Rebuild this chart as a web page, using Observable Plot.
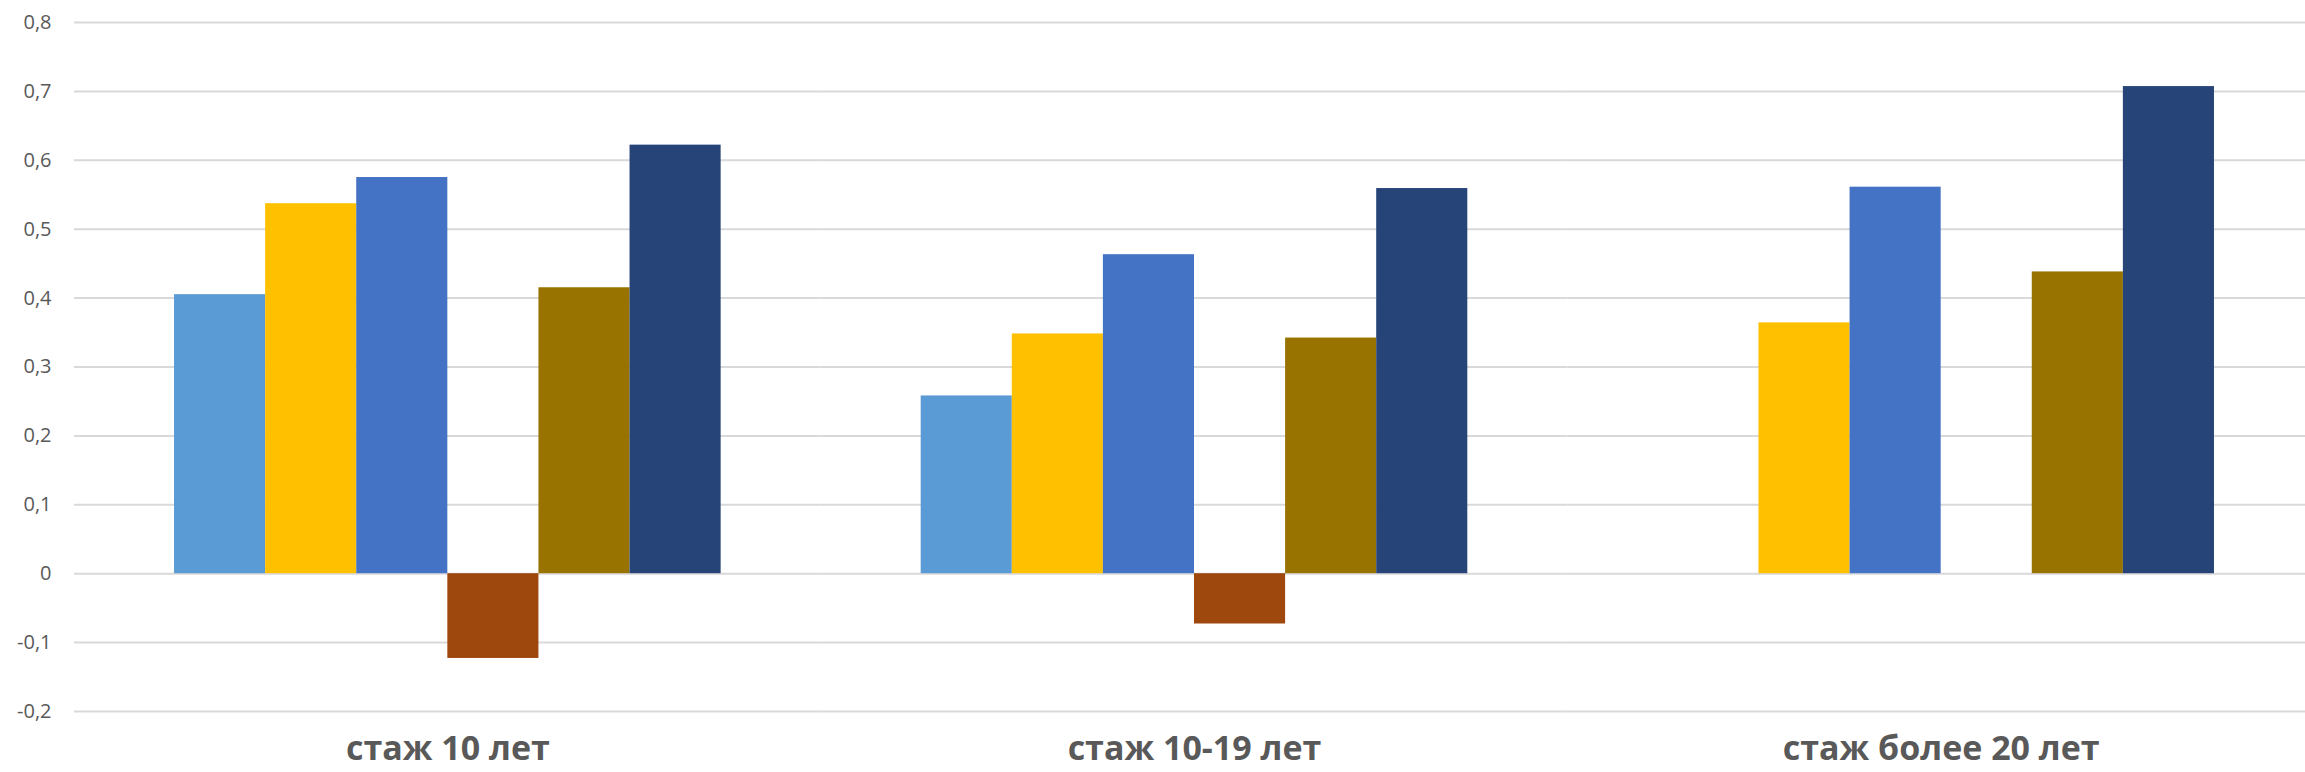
<!DOCTYPE html>
<html>
<head>
<meta charset="utf-8">
<script src="https://cdn.jsdelivr.net/npm/d3@7"></script>
<script src="https://cdn.jsdelivr.net/npm/@observablehq/plot@0.6"></script>
<style>
  html, body { margin: 0; padding: 0; background: #fff; }
  #chart svg { display: block; }
</style>
</head>
<body>
<div id="chart"></div>
<script>
const categories = ["стаж 10 лет", "стаж 10-19 лет", "стаж более 20 лет"];
const seriesNames = ["Ряд 1", "Ряд 2", "Ряд 3", "Ряд 4", "Ряд 5", "Ряд 6"];
const seriesColors = ["#5B9BD5", "#FFC000", "#4472C4", "#9E480E", "#997300", "#264478"];
const series1 = [0.405, 0.258, null];
const series2 = [0.537, 0.348, 0.364];
const series3 = [0.575, 0.463, 0.561];
const series4 = [-0.123, -0.073, null];
const series5 = [0.415, 0.342, 0.438];
const series6 = [0.622, 0.559, 0.707];
const yTicks = [-0.2, -0.1, 0, 0.1, 0.2, 0.3, 0.4, 0.5, 0.6, 0.7, 0.8];
const yTickLabels = ["-0,2", "-0,1", "0", "0,1", "0,2", "0,3", "0,4", "0,5", "0,6", "0,7", "0,8"];

const allSeries = [series1, series2, series3, series4, series5, series6];
const data = [];
categories.forEach((c, ci) => {
  allSeries.forEach((s, si) => {
    if (s[ci] != null) data.push({category: c, series: seriesNames[si], value: s[ci]});
  });
});

const chart = Plot.plot({
  width: 2305,
  height: 772,
  marginLeft: 74,
  marginRight: -9,
  marginTop: 22,
  marginBottom: 61,
  style: {fontFamily: "Open Sans", background: "#fff"},
  fx: {domain: categories, paddingInner: 0, paddingOuter: 0, label: null, round: false},
  x: {domain: seriesNames, paddingInner: 0, paddingOuter: 1.098, axis: null, round: false},
  y: {domain: [-0.2, 0.8], axis: null},
  color: {domain: seriesNames, range: seriesColors},
  marks: [
    Plot.gridY(yTicks, {stroke: "#d9d9d9", strokeOpacity: 1, strokeWidth: 2}),
    Plot.barY(data, {fx: "category", x: "series", y: "value", fill: "series"}),
    Plot.axisY(yTicks, {
      tickSize: 0, tickPadding: 23, fontSize: 20, fill: "#595959",
      tickFormat: (d) => yTickLabels[yTicks.indexOf(d)], label: null
    }),
    Plot.axisFx({
      anchor: "bottom", tickSize: 0, tickPadding: 24, fontSize: 34, fontWeight: "bold",
      fill: "#595959", label: null
    })
  ]
});
document.getElementById("chart").appendChild(chart);
</script>
</body>
</html>
